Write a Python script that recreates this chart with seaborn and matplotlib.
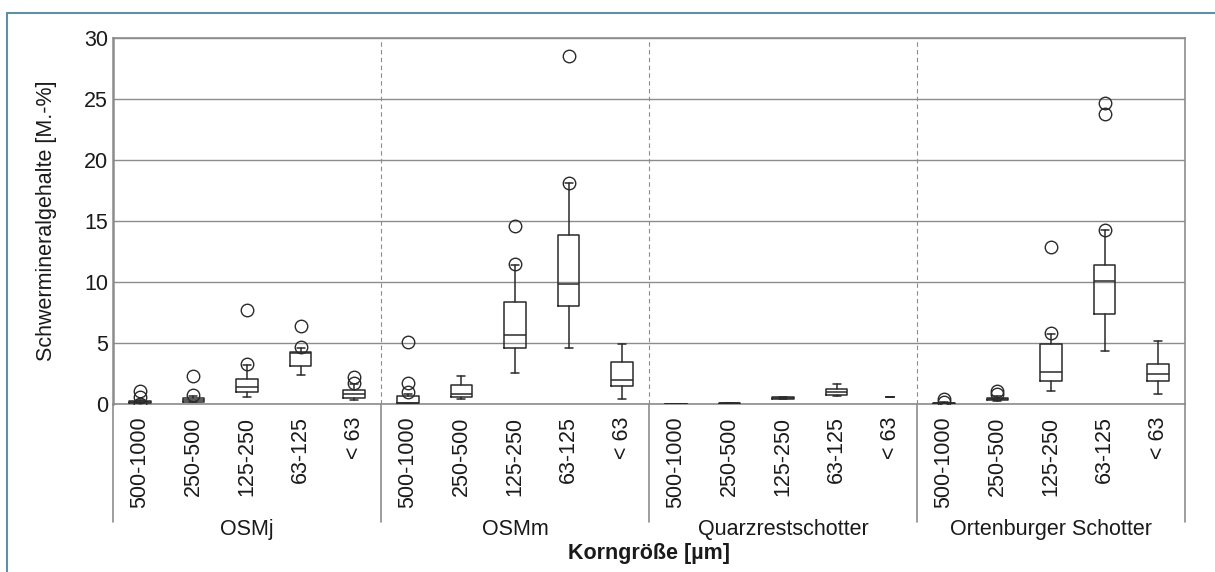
import numpy as np
import matplotlib
matplotlib.use("Agg")
import matplotlib.pyplot as plt
import matplotlib.transforms as mtransforms
import seaborn as sns

sns.set_theme(style="white")
plt.rcParams['font.family'] = ['Liberation Sans', 'DejaVu Sans']

# data (summary values per box, M.-%)
groups = ["OSMj", "OSMm", "Quarzrestschotter", "Ortenburger Schotter"]
sizes = ["500-1000", "250-500", "125-250", "63-125", "< 63"]

whislo = [0.05, 0.15, 0.57, 2.35, 0.30,
          0.00, 0.44, 2.57, 4.56, 0.44,
          0.00, 0.03, 0.38, 0.66, 0.55,
          0.00, 0.25, 1.09, 4.34, 0.82]
q1 = [0.10, 0.19, 1.00, 3.10, 0.49,
      0.05, 0.55, 4.62, 8.03, 1.50,
      0.01, 0.04, 0.42, 0.76, 0.55,
      0.02, 0.30, 1.91, 7.35, 1.91]
med = [0.18, 0.33, 1.37, 4.20, 0.79,
       0.12, 0.85, 5.66, 9.86, 1.97,
       0.02, 0.05, 0.48, 0.98, 0.55,
       0.05, 0.40, 2.60, 10.08, 2.43]
q3 = [0.25, 0.47, 2.02, 4.30, 1.12,
      0.68, 1.53, 8.39, 13.85, 3.47,
      0.03, 0.06, 0.55, 1.23, 0.55,
      0.10, 0.49, 4.89, 11.39, 3.28]
whishi = [0.35, 0.68, 3.20, 4.55, 1.65,
          0.85, 2.30, 11.40, 18.10, 4.92,
          0.04, 0.07, 0.58, 1.64, 0.55,
          0.15, 0.68, 5.74, 14.26, 5.19]
fliers = [[1.05, 0.55, 0.02], [2.30, 0.75], [7.70, 3.30], [6.40, 4.65], [2.25, 1.75],
          [5.10, 1.75, 0.95], [], [14.60, 11.50], [28.55, 18.15], [],
          [], [], [], [], [],
          [0.45, 0.20], [1.07, 0.80], [12.90, 5.80], [24.70, 23.77, 14.30], []]

stats = []
for i in range(len(med)):
    stats.append(dict(whislo=whislo[i], q1=q1[i], med=med[i], q3=q3[i],
                      whishi=whishi[i], fliers=fliers[i]))

fig = plt.figure(figsize=(12.15, 5.72), dpi=100)
ax = fig.add_axes([0.093, 0.2937, 0.8823, 0.6399])

fs = 15.5
txt_c = "#1a1a1a"
line_c = "#2a2a2a"
grid_c = "#8c8c8c"

positions = np.arange(len(stats))
widths = [0.4] * len(stats)
widths[14] = 0.15
lw = 1.1
ax.bxp(stats, positions=positions, widths=widths, capwidths=0.15,
       boxprops=dict(color=line_c, linewidth=lw),
       medianprops=dict(color=line_c, linewidth=lw),
       whiskerprops=dict(color=line_c, linewidth=lw),
       capprops=dict(color=line_c, linewidth=lw),
       flierprops=dict(marker="o", markerfacecolor="none", markeredgecolor=line_c,
                       markersize=9, markeredgewidth=1.0),
       manage_ticks=False, zorder=3)

ax.set_xlim(-0.5, len(stats) - 0.5)
ax.set_ylim(0, 30)
ax.set_yticks(range(0, 31, 5))
ax.yaxis.grid(True, color=grid_c, linewidth=1.0)
ax.set_axisbelow(True)

# dashed group separators inside the plot
for x in [4.5, 9.5, 14.5]:
    ax.axvline(x, color=grid_c, linestyle=(0, (4, 3)), linewidth=0.8, zorder=1)

for side in ["left", "top", "right", "bottom"]:
    ax.spines[side].set_color(grid_c)
ax.spines["left"].set_linewidth(1.8)
ax.spines["top"].set_linewidth(1.2)
ax.spines["right"].set_linewidth(1.2)
ax.spines["bottom"].set_linewidth(1.2)

ax.tick_params(axis="both", length=0, labelsize=fs, colors=txt_c)
ax.tick_params(axis="x", pad=9)
ax.set_xticks(positions)
ax.set_xticklabels(sizes * len(groups), rotation=90, va="top")

# group frame lines below the axis
trans = mtransforms.blended_transform_factory(ax.transData, ax.transAxes)
for x in [-0.5, 4.5, 9.5, 14.5, 19.5]:
    ax.plot([x, x], [0, -0.322], transform=trans, color=grid_c, linewidth=1.2,
            clip_on=False)
for g, name in enumerate(groups):
    ax.text(g * 5 + 2, -0.342, name, transform=trans, ha="center", va="center",
            fontsize=fs, color=txt_c)

ax.text(0.5, -0.408, "Korngröße [µm]", transform=ax.transAxes, ha="center",
        va="center", fontsize=fs, fontweight="bold", color=txt_c)
ax.set_ylabel("Schwermineralgehalte [M.-%]", fontsize=fs, color=txt_c)
ax.yaxis.set_label_coords(-0.052, 0.5)

# outer frame lines (left and top) as in the reference
fig.add_artist(plt.Line2D([7 / 1215, 7 / 1215], [0, 1 - 13 / 572], color="#5f8fa3",
                          linewidth=1.5))
fig.add_artist(plt.Line2D([7 / 1215, 1], [1 - 13 / 572, 1 - 13 / 572], color="#5f8fa3",
                          linewidth=1.5))

fig.savefig("out.png", dpi=100)
